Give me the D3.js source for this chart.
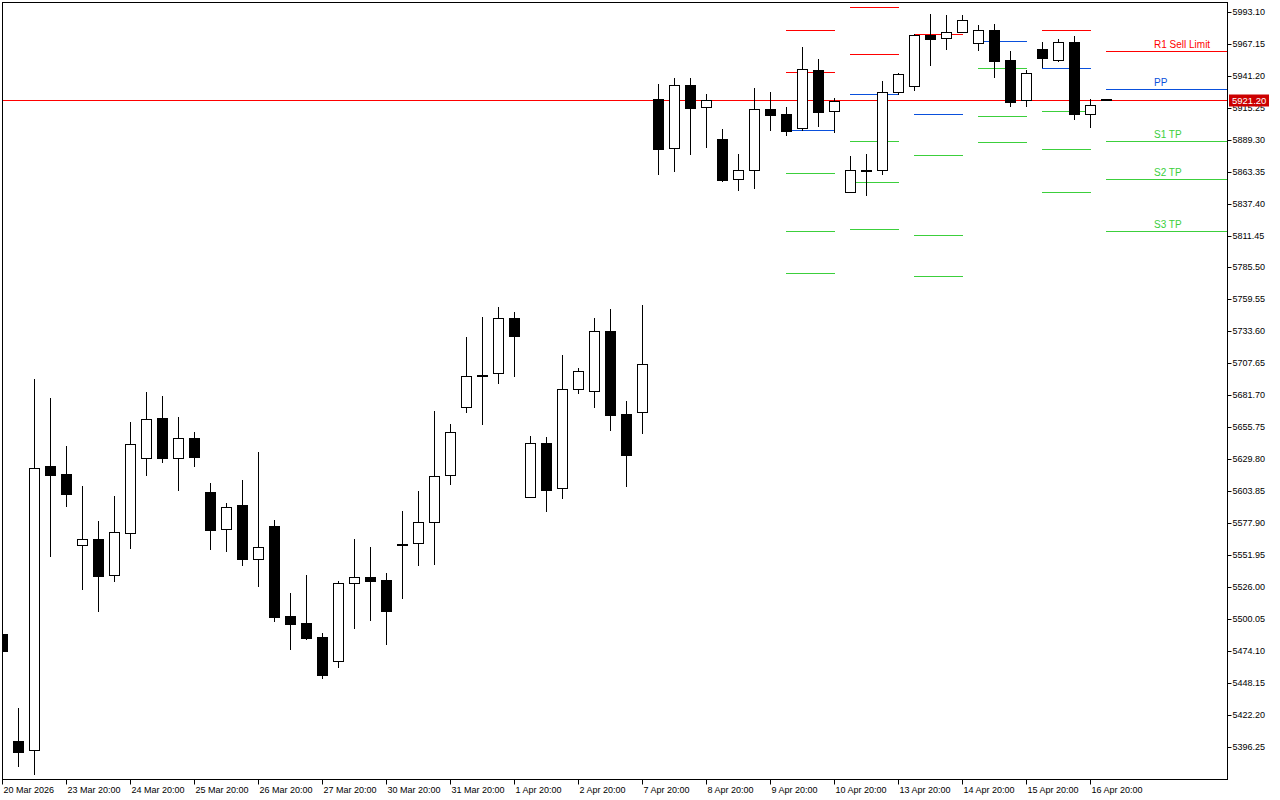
<!DOCTYPE html>
<html><head><meta charset="utf-8">
<script src="https://cdn.jsdelivr.net/npm/d3@7"></script>
<style>html,body{margin:0;padding:0;background:#fff;overflow:hidden}</style>
</head><body>
<svg id="c" width="1280" height="800"></svg>
<script>
const opens = [5487.7,5400.7,5393.2,5623.9,5617.4,5559.7,5564.6,5535.4,5570.0,5630.4,
5662.9,5630.4,5646.7,5602.8,5572.7,5592.2,5548.4,5575.4,5502.0,5496.4,
5485.0,5465.5,5528.9,5533.7,5531.3,5560.8,5561.4,5578.4,5616.6,5671.9,
5698.1,5699.5,5744.2,5598.7,5642.6,5606.1,5686.5,5684.9,5733.6,5666.2,
5667.8,5922.4,5882.3,5933.5,5915.7,5889.7,5857.2,5864.5,5914.0,5910.2,
5898.6,5945.7,5912.4,5846.6,5864.5,5864.5,5927.8,5932.7,5974.7,5971.7,
5976.6,5967.7,5978.2,5953.9,5921.8,5962.8,5954.3,5968.5,5910.0,5922.0];
const highs = [5488.5,5427.3,5694.9,5679.4,5640.2,5607.9,5579.5,5599.8,5659.9,5684.3,
5681.1,5664.0,5651.8,5610.1,5593.9,5612.8,5635.6,5580.1,5521.0,5535.6,
5488.5,5530.7,5564.9,5558.1,5537.0,5587.6,5603.9,5668.9,5658.3,5729.0,
5745.3,5753.4,5749.3,5648.6,5647.7,5714.4,5703.8,5744.4,5751.8,5677.0,
5755.0,5934.6,5939.2,5939.2,5926.5,5898.0,5877.7,5931.3,5928.1,5915.9,
5964.7,5954.9,5923.2,5876.1,5877.7,5937.0,5943.5,5975.2,5991.5,5990.7,
5990.7,5982.5,5983.3,5961.2,5946.0,5968.7,5971.2,5973.6,5922.4,5922.0];
const lows = [5473.5,5380.4,5373.9,5551.3,5591.9,5524.5,5506.6,5531.0,5557.8,5617.1,
5627.7,5604.9,5624.4,5557.0,5555.4,5544.0,5526.9,5498.5,5475.7,5483.8,
5452.2,5461.1,5492.8,5499.3,5479.8,5517.2,5544.0,5544.8,5609.8,5668.1,
5658.6,5691.9,5697.6,5598.7,5587.9,5598.4,5683.7,5672.4,5653.7,5608.2,
5651.2,5861.7,5864.1,5878.0,5883.6,5856.0,5848.7,5850.3,5897.5,5893.4,
5897.2,5900.7,5895.8,5846.6,5844.6,5861.7,5926.7,5930.0,5950.3,5963.3,
5976.6,5962.5,5940.5,5917.0,5917.0,5948.4,5953.3,5906.4,5899.9,5921.2];
const closes = [5474.1,5392.0,5622.3,5617.1,5601.7,5564.6,5535.0,5570.3,5641.8,5662.1,
5630.9,5646.7,5631.7,5572.4,5590.6,5548.9,5558.1,5501.7,5496.0,5484.7,
5454.6,5528.9,5533.7,5531.0,5506.6,5560.8,5578.4,5615.8,5651.6,5697.1,
5698.1,5744.2,5730.1,5642.6,5604.9,5686.5,5701.1,5733.6,5665.9,5633.4,
5706.8,5882.0,5933.5,5915.3,5921.3,5856.8,5864.5,5914.0,5909.6,5896.6,
5946.5,5912.1,5920.5,5864.5,5864.5,5927.8,5942.5,5974.2,5971.4,5976.6,
5986.4,5978.2,5953.5,5920.2,5943.3,5955.5,5968.5,5910.0,5917.8,5921.2];

const dateLabels = ["20 Mar 2026","23 Mar 20:00","24 Mar 20:00","25 Mar 20:00","26 Mar 20:00",
"27 Mar 20:00","30 Mar 20:00","31 Mar 20:00","1 Apr 20:00","2 Apr 20:00","7 Apr 20:00",
"8 Apr 20:00","9 Apr 20:00","10 Apr 20:00","13 Apr 20:00","14 Apr 20:00","15 Apr 20:00","16 Apr 20:00"];
const dateLabelIndex = [0,4,8,12,16,20,24,28,32,36,40,44,48,52,56,60,64,68];

const yTicks = [5993.10,5967.15,5941.20,5915.25,5889.30,5863.35,5837.40,5811.45,5785.50,
5759.55,5733.60,5707.65,5681.70,5655.75,5629.80,5603.85,5577.90,5551.95,5526.00,
5500.05,5474.10,5448.15,5422.20,5396.25];

const currentPrice = 5921.20;

// daily pivot segments (start/end candle index)
const pivotStart = [49,53,57,61,65,69];
const pivotEnd   = [52,56,60,64,68,null];
const pivotR2 = [5978.2,5996.9,null,null,null,null];
const pivotR1 = [5944.3,5958.7,5975.0,null,5978.2,5961.2];
const pivotPP = [5897.0,5926.2,5910.0,5969.3,5947.4,5930.3];
const pivotS1 = [5862.0,5888.0,5876.7,5947.4,5912.4,5888.0];
const pivotS2 = [5814.9,5854.7,5811.6,5908.3,5881.5,5857.2];
const pivotS3 = [5780.8,5816.5,5778.3,5887.2,5846.6,5814.9];

const levelLabels = ["R1 Sell Limit","PP","S1 TP","S2 TP","S3 TP"];
const levelLabelIndex = 72;

// ---- layout ----
const L = 2, R = 1227, T = 2, B = 779;
const RED = "#ff0000", BLUE = "#0a50dc", GREEN = "#3ccf3c";
const FONT = "'Liberation Sans', Arial, sans-serif";
const svg = d3.select("#c");
const candleStep = 16;
const x = d3.scaleLinear().domain([0, (R - L) / candleStep]).range([L, R]);
const y = d3.scaleLinear().domain([5396.25, 5993.10]).range([746.5, 12]);

svg.append("rect").attr("width",1280).attr("height",800).attr("fill","#fff");
svg.append("clipPath").attr("id","plot").append("rect")
  .attr("x",L).attr("y",T).attr("width",R-L).attr("height",B-T);

const plot = svg.append("g").attr("clip-path","url(#plot)");

// pivot lines
const segs = pivotStart.map((s,k)=>({s, e: pivotEnd[k]}));
function drawLevel(arr, color){
  segs.forEach((sg,k)=>{
    if (arr[k]==null) return;
    const yy = Math.round(y(arr[k])) + 0.5;
    plot.append("line")
      .attr("x1", x(sg.s)).attr("x2", sg.e==null ? R : x(sg.e) + 1)
      .attr("y1", yy).attr("y2", yy)
      .attr("stroke", color).attr("stroke-width",1);
  });
}
drawLevel(pivotR2, RED);
drawLevel(pivotR1, RED);
drawLevel(pivotPP, BLUE);
drawLevel(pivotS1, GREEN);
drawLevel(pivotS2, GREEN);
drawLevel(pivotS3, GREEN);

// current price line
const cpy = Math.round(y(currentPrice)) + 0.5;
plot.append("line").attr("x1",L).attr("x2",R).attr("y1",cpy).attr("y2",cpy)
  .attr("stroke",RED).attr("stroke-width",1);

// candles
const candles = opens.map((o,i)=>({i, o, h: highs[i], l: lows[i], c: closes[i]}));
const cg = plot.selectAll("g.candle").data(candles).join("g").attr("class","candle");
cg.append("line")
  .attr("x1", d=>Math.round(x(d.i))+0.5).attr("x2", d=>Math.round(x(d.i))+0.5)
  .attr("y1", d=>Math.round(y(d.h))).attr("y2", d=>Math.round(y(d.l))+1)
  .attr("stroke","#000").attr("stroke-width",1);
cg.append("rect")
  .attr("x", d=>Math.round(x(d.i))-4.5)
  .attr("width", 10)
  .attr("y", d=>Math.round(y(Math.max(d.o,d.c)))+0.5)
  .attr("height", d=>Math.max(1, Math.round(y(Math.min(d.o,d.c))) - Math.round(y(Math.max(d.o,d.c)))))
  .attr("fill", d=> d.c > d.o ? "#fff" : "#000")
  .attr("stroke","#000").attr("stroke-width",1);

// level labels (last segment)
const lastK = segs.length - 1;
const labelLevels = [pivotR1[lastK], pivotPP[lastK], pivotS1[lastK], pivotS2[lastK], pivotS3[lastK]];
const labelColors = [RED, BLUE, GREEN, GREEN, GREEN];
plot.selectAll("text.lvl").data(levelLabels).join("text").attr("class","lvl")
  .attr("x", x(levelLabelIndex))
  .attr("y", (d,k)=>Math.round(y(labelLevels[k])) - 3)
  .attr("fill", (d,k)=>labelColors[k])
  .attr("font-family",FONT)
  .attr("font-size","10px")
  .text(d=>d);

// frame
svg.append("rect").attr("x",L+0.5).attr("y",T+0.5).attr("width",R-L).attr("height",B-T)
  .attr("fill","none").attr("stroke","#000").attr("stroke-width",1);

// y axis (right)
const yAxis = d3.axisRight(y).tickValues(yTicks).tickSize(4).tickPadding(1)
  .tickFormat(d3.format(".2f"));
const ya = svg.append("g").attr("transform",`translate(${R+0.5},0)`).call(yAxis);
ya.select(".domain").remove();
ya.selectAll(".tick line").attr("stroke","#000");
ya.selectAll(".tick text").attr("fill","#000")
  .attr("font-family",FONT).attr("font-size","9px");
ya.selectAll(".tick").attr("transform", d=>`translate(0,${Math.round(y(d))+0.5})`);

// current price tag
const tag = svg.append("g").attr("transform",`translate(${R+2},${cpy})`);
tag.append("rect").attr("x",0).attr("y",-6).attr("width",40).attr("height",12).attr("fill","#cc0000");
tag.append("text").attr("x",3).attr("y",0).attr("dy","0.35em").attr("fill","#fff")
  .attr("font-family",FONT).attr("font-size","9.5px")
  .text(d3.format(".2f")(currentPrice));

// x axis (bottom)
const xAxis = d3.axisBottom(x).tickValues(dateLabelIndex).tickSize(5).tickPadding(2)
  .tickFormat((d,k)=>dateLabels[k]);
const xa = svg.append("g").attr("transform",`translate(0,${B+0.5})`).call(xAxis);
xa.select(".domain").remove();
xa.selectAll(".tick line").attr("stroke","#000");
xa.selectAll(".tick").attr("transform", d=>`translate(${Math.round(x(d))+0.5},0)`);
xa.selectAll(".tick text").attr("fill","#000").attr("text-anchor","start").attr("x",1)
  .attr("font-family",FONT).attr("font-size","9px");
</script>
</body></html>
